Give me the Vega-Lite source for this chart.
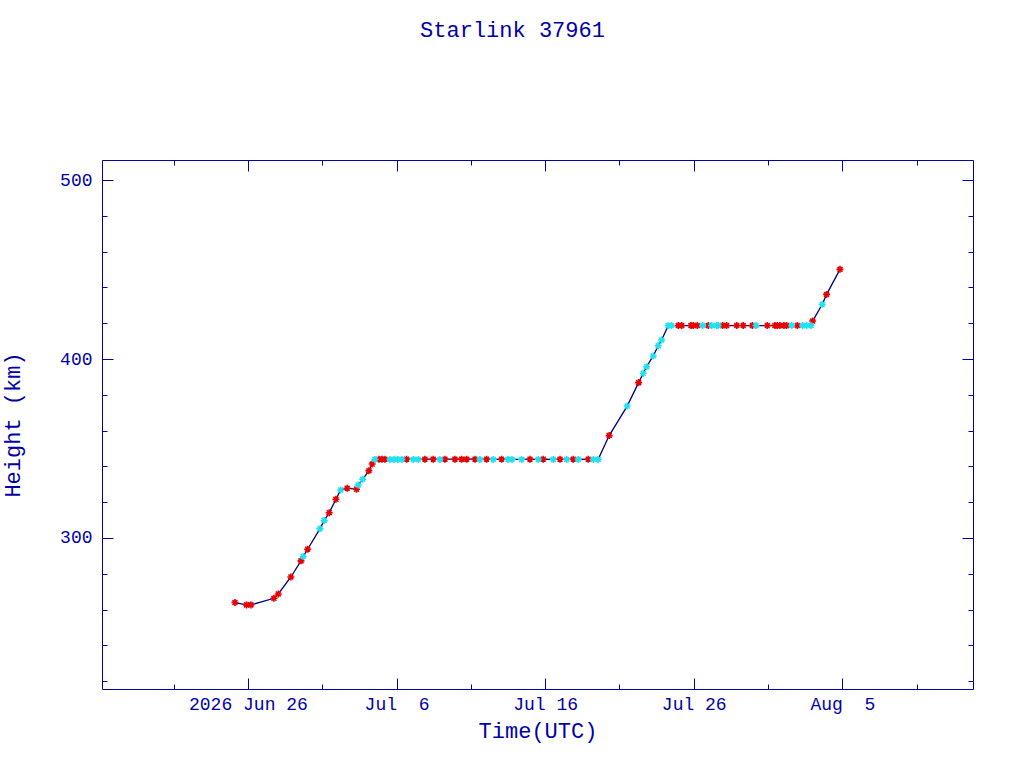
{
  "$schema": "https://vega.github.io/schema/vega-lite/v6.json",
  "width": 871,
  "height": 529,
  "autosize": "none",
  "padding": {"left": 102, "top": 160, "right": 51, "bottom": 79},
  "background": "white",
  "config": {
    "view": {"stroke": null},
    "axis": {
      "grid": false,
      "domainColor": "#0000aa",
      "tickColor": "#0000aa",
      "labelColor": "#0000aa",
      "titleColor": "#0000aa",
      "labelFont": "Liberation Mono",
      "titleFont": "Liberation Mono",
      "labelFontSize": 18,
      "titleFontSize": 22,
      "titleFontWeight": "normal",
      "tickWidth": 1,
      "domainWidth": 1
    }
  },
  "title": {
    "text": "Starlink 37961",
    "anchor": "middle",
    "frame": "group",
    "dx": -25,
    "offset": 118,
    "font": "Liberation Mono",
    "fontSize": 22,
    "fontWeight": "normal",
    "color": "#0000aa"
  },
  "data": {
    "values": [
      {"t": "2026-06-25T03:00:00Z", "h": 263.9, "src": "A"},
      {"t": "2026-06-25T21:50:00Z", "h": 262.6, "src": "A"},
      {"t": "2026-06-26T04:48:00Z", "h": 262.6, "src": "A"},
      {"t": "2026-06-27T18:00:00Z", "h": 266.3, "src": "A"},
      {"t": "2026-06-28T01:00:00Z", "h": 268.7, "src": "A"},
      {"t": "2026-06-28T21:22:00Z", "h": 278.2, "src": "A"},
      {"t": "2026-06-29T13:41:00Z", "h": 287.2, "src": "A"},
      {"t": "2026-06-29T17:17:00Z", "h": 289.6, "src": "B"},
      {"t": "2026-06-30T00:29:00Z", "h": 293.7, "src": "A"},
      {"t": "2026-06-30T20:24:00Z", "h": 305.2, "src": "B"},
      {"t": "2026-07-01T03:07:00Z", "h": 309.7, "src": "B"},
      {"t": "2026-07-01T11:17:00Z", "h": 314.1, "src": "A"},
      {"t": "2026-07-01T22:05:00Z", "h": 321.6, "src": "A"},
      {"t": "2026-07-02T05:46:00Z", "h": 326.8, "src": "B"},
      {"t": "2026-07-02T16:19:00Z", "h": 327.8, "src": "A"},
      {"t": "2026-07-03T07:26:00Z", "h": 327.2, "src": "A"},
      {"t": "2026-07-03T10:05:00Z", "h": 329.6, "src": "B"},
      {"t": "2026-07-03T17:17:00Z", "h": 332.8, "src": "B"},
      {"t": "2026-07-04T03:22:00Z", "h": 337.6, "src": "A"},
      {"t": "2026-07-04T08:38:00Z", "h": 341.3, "src": "A"},
      {"t": "2026-07-04T13:12:00Z", "h": 343.9, "src": "B"},
      {"t": "2026-07-04T19:41:00Z", "h": 344.0, "src": "A"},
      {"t": "2026-07-05T00:29:00Z", "h": 344.0, "src": "A"},
      {"t": "2026-07-05T05:17:00Z", "h": 344.0, "src": "A"},
      {"t": "2026-07-05T13:26:00Z", "h": 343.9, "src": "B"},
      {"t": "2026-07-05T19:55:00Z", "h": 343.9, "src": "B"},
      {"t": "2026-07-06T02:10:00Z", "h": 343.9, "src": "B"},
      {"t": "2026-07-06T08:38:00Z", "h": 343.9, "src": "B"},
      {"t": "2026-07-06T16:19:00Z", "h": 344.0, "src": "A"},
      {"t": "2026-07-07T02:53:00Z", "h": 343.9, "src": "B"},
      {"t": "2026-07-07T11:02:00Z", "h": 343.9, "src": "B"},
      {"t": "2026-07-07T21:50:00Z", "h": 344.0, "src": "A"},
      {"t": "2026-07-08T11:17:00Z", "h": 344.0, "src": "A"},
      {"t": "2026-07-08T22:05:00Z", "h": 343.9, "src": "B"},
      {"t": "2026-07-09T06:14:00Z", "h": 344.0, "src": "A"},
      {"t": "2026-07-09T22:19:00Z", "h": 344.0, "src": "A"},
      {"t": "2026-07-10T09:07:00Z", "h": 344.0, "src": "A"},
      {"t": "2026-07-10T17:17:00Z", "h": 344.0, "src": "A"},
      {"t": "2026-07-11T06:43:00Z", "h": 344.0, "src": "A"},
      {"t": "2026-07-11T14:38:00Z", "h": 343.9, "src": "B"},
      {"t": "2026-07-12T01:26:00Z", "h": 344.0, "src": "A"},
      {"t": "2026-07-12T12:14:00Z", "h": 343.9, "src": "B"},
      {"t": "2026-07-13T01:41:00Z", "h": 344.0, "src": "A"},
      {"t": "2026-07-13T12:00:00Z", "h": 343.9, "src": "B"},
      {"t": "2026-07-13T18:29:00Z", "h": 343.9, "src": "B"},
      {"t": "2026-07-14T10:05:00Z", "h": 343.9, "src": "B"},
      {"t": "2026-07-14T23:31:00Z", "h": 344.0, "src": "A"},
      {"t": "2026-07-15T12:58:00Z", "h": 343.9, "src": "B"},
      {"t": "2026-07-15T20:53:00Z", "h": 344.0, "src": "A"},
      {"t": "2026-07-16T13:12:00Z", "h": 343.9, "src": "B"},
      {"t": "2026-07-17T00:00:00Z", "h": 344.0, "src": "A"},
      {"t": "2026-07-17T10:48:00Z", "h": 343.9, "src": "B"},
      {"t": "2026-07-17T21:22:00Z", "h": 344.0, "src": "A"},
      {"t": "2026-07-18T05:31:00Z", "h": 343.9, "src": "B"},
      {"t": "2026-07-18T21:36:00Z", "h": 344.0, "src": "A"},
      {"t": "2026-07-19T05:46:00Z", "h": 343.9, "src": "B"},
      {"t": "2026-07-19T13:41:00Z", "h": 343.9, "src": "B"},
      {"t": "2026-07-20T07:26:00Z", "h": 357.2, "src": "A"},
      {"t": "2026-07-21T12:29:00Z", "h": 373.7, "src": "B"},
      {"t": "2026-07-22T06:58:00Z", "h": 386.8, "src": "A"},
      {"t": "2026-07-22T14:24:00Z", "h": 392.0, "src": "B"},
      {"t": "2026-07-22T19:55:00Z", "h": 395.7, "src": "B"},
      {"t": "2026-07-23T06:29:00Z", "h": 401.7, "src": "B"},
      {"t": "2026-07-23T14:38:00Z", "h": 407.4, "src": "B"},
      {"t": "2026-07-23T20:10:00Z", "h": 410.6, "src": "B"},
      {"t": "2026-07-24T06:43:00Z", "h": 418.6, "src": "B"},
      {"t": "2026-07-24T12:14:00Z", "h": 418.7, "src": "B"},
      {"t": "2026-07-24T23:02:00Z", "h": 418.7, "src": "A"},
      {"t": "2026-07-25T04:34:00Z", "h": 418.7, "src": "A"},
      {"t": "2026-07-25T19:26:00Z", "h": 418.7, "src": "A"},
      {"t": "2026-07-25T23:17:00Z", "h": 418.7, "src": "A"},
      {"t": "2026-07-26T05:46:00Z", "h": 418.7, "src": "A"},
      {"t": "2026-07-26T14:24:00Z", "h": 418.7, "src": "B"},
      {"t": "2026-07-26T23:31:00Z", "h": 418.7, "src": "A"},
      {"t": "2026-07-27T04:48:00Z", "h": 418.7, "src": "B"},
      {"t": "2026-07-27T12:58:00Z", "h": 418.7, "src": "B"},
      {"t": "2026-07-27T15:36:00Z", "h": 418.7, "src": "B"},
      {"t": "2026-07-27T22:34:00Z", "h": 418.7, "src": "A"},
      {"t": "2026-07-28T05:02:00Z", "h": 418.7, "src": "A"},
      {"t": "2026-07-28T21:22:00Z", "h": 418.7, "src": "A"},
      {"t": "2026-07-29T07:55:00Z", "h": 418.7, "src": "A"},
      {"t": "2026-07-29T22:34:00Z", "h": 418.7, "src": "A"},
      {"t": "2026-07-30T04:34:00Z", "h": 418.7, "src": "B"},
      {"t": "2026-07-30T22:48:00Z", "h": 418.7, "src": "A"},
      {"t": "2026-07-31T11:02:00Z", "h": 418.7, "src": "A"},
      {"t": "2026-07-31T14:53:00Z", "h": 418.7, "src": "A"},
      {"t": "2026-07-31T19:12:00Z", "h": 418.7, "src": "A"},
      {"t": "2026-08-01T01:41:00Z", "h": 418.7, "src": "A"},
      {"t": "2026-08-01T06:00:00Z", "h": 418.7, "src": "A"},
      {"t": "2026-08-01T14:10:00Z", "h": 418.7, "src": "B"},
      {"t": "2026-08-01T23:17:00Z", "h": 418.7, "src": "A"},
      {"t": "2026-08-02T07:55:00Z", "h": 418.7, "src": "B"},
      {"t": "2026-08-02T14:24:00Z", "h": 418.7, "src": "B"},
      {"t": "2026-08-02T21:22:00Z", "h": 418.7, "src": "B"},
      {"t": "2026-08-03T00:00:00Z", "h": 421.2, "src": "A"},
      {"t": "2026-08-03T15:36:00Z", "h": 430.6, "src": "B"},
      {"t": "2026-08-03T22:34:00Z", "h": 436.1, "src": "A"},
      {"t": "2026-08-04T20:10:00Z", "h": 450.1, "src": "A"}
    ]
  },
  "resolve": {"axis": {"x": "independent", "y": "independent"}},
  "layer": [
    {
      "mark": {"type": "line", "color": "#000080", "strokeWidth": 1.3},
      "encoding": {
        "x": {
          "field": "t", "type": "temporal",
          "scale": {"type": "utc", "domain": [
            {"year": 2026, "month": 6, "date": 16, "hours": 4, "minutes": 20, "utc": true},
            {"year": 2026, "month": 8, "date": 13, "hours": 19, "utc": true}]},
          "axis": {
            "orient": "bottom",
            "title": "Time(UTC)",
            "ticks": false,
            "labelPadding": 6,
            "titlePadding": 7,
            "values": [
              {"year": 2026, "month": 6, "date": 26, "utc": true},
              {"year": 2026, "month": 7, "date": 6, "utc": true},
              {"year": 2026, "month": 7, "date": 16, "utc": true},
              {"year": 2026, "month": 7, "date": 26, "utc": true},
              {"year": 2026, "month": 8, "date": 5, "utc": true}
            ],
            "labelExpr": "utcmonth(datum.value) == 5 ? '2026 Jun 26' : utcFormat(datum.value, '%b') + (utcdate(datum.value) < 10 ? '\u00a0\u00a0' : '\u00a0') + utcdate(datum.value)"
          }
        },
        "y": {
          "field": "h", "type": "quantitative",
          "scale": {"domain": [215.6, 511.2], "nice": false, "zero": false},
          "axis": {
            "orient": "left",
            "title": "Height (km)",
            "ticks": false,
            "values": [300, 400, 500],
            "labelPadding": 10,
            "titlePadding": 35
          }
        }
      }
    },
    {
      "transform": [{"filter": "datum.src == 'A'"}],
      "mark": {
        "type": "point",
        "shape": "M-1,0L1,0M0,-1L0,1M-0.7,-0.7L0.7,0.7M-0.7,0.7L0.7,-0.7",
        "filled": false,
        "color": "#e80000",
        "strokeWidth": 1.6,
        "size": 49,
        "opacity": 1
      },
      "encoding": {
        "x": {
          "field": "t", "type": "temporal",
          "scale": {"type": "utc", "domain": [
            {"year": 2026, "month": 6, "date": 16, "hours": 4, "minutes": 20, "utc": true},
            {"year": 2026, "month": 8, "date": 13, "hours": 19, "utc": true}]},
          "axis": {
            "orient": "bottom",
            "title": null,
            "labels": false,
            "domain": false,
            "values": [
              {"year": 2026, "month": 6, "date": 21, "utc": true},
              {"year": 2026, "month": 6, "date": 26, "utc": true},
              {"year": 2026, "month": 7, "date": 1, "utc": true},
              {"year": 2026, "month": 7, "date": 6, "utc": true},
              {"year": 2026, "month": 7, "date": 11, "utc": true},
              {"year": 2026, "month": 7, "date": 16, "utc": true},
              {"year": 2026, "month": 7, "date": 21, "utc": true},
              {"year": 2026, "month": 7, "date": 26, "utc": true},
              {"year": 2026, "month": 7, "date": 31, "utc": true},
              {"year": 2026, "month": 8, "date": 5, "utc": true},
              {"year": 2026, "month": 8, "date": 10, "utc": true}
            ],
            "tickSize": {"condition": {"test": "indexof([26, 6, 16, 5], utcdate(datum.value)) >= 0", "value": -11}, "value": -5}
          }
        },
        "y": {
          "field": "h", "type": "quantitative",
          "scale": {"domain": [215.6, 511.2], "nice": false, "zero": false},
          "axis": {
            "orient": "left",
            "title": null,
            "labels": false,
            "domain": false,
            "values": [220, 240, 260, 280, 300, 320, 340, 360, 380, 400, 420, 440, 460, 480, 500],
            "tickSize": {"condition": {"test": "datum.value % 100 == 0", "value": -11}, "value": -5}
          }
        }
      }
    },
    {
      "transform": [{"filter": "datum.src == 'B'"}],
      "mark": {
        "type": "point",
        "shape": "M-1,0L1,0M0,-1L0,1M-0.7,-0.7L0.7,0.7M-0.7,0.7L0.7,-0.7",
        "filled": false,
        "color": "#22e0f0",
        "strokeWidth": 1.6,
        "size": 49,
        "opacity": 1
      },
      "encoding": {
        "x": {
          "field": "t", "type": "temporal",
          "scale": {"type": "utc", "domain": [
            {"year": 2026, "month": 6, "date": 16, "hours": 4, "minutes": 20, "utc": true},
            {"year": 2026, "month": 8, "date": 13, "hours": 19, "utc": true}]},
          "axis": {
            "orient": "top",
            "title": null,
            "labels": false,
            "values": [
              {"year": 2026, "month": 6, "date": 21, "utc": true},
              {"year": 2026, "month": 6, "date": 26, "utc": true},
              {"year": 2026, "month": 7, "date": 1, "utc": true},
              {"year": 2026, "month": 7, "date": 6, "utc": true},
              {"year": 2026, "month": 7, "date": 11, "utc": true},
              {"year": 2026, "month": 7, "date": 16, "utc": true},
              {"year": 2026, "month": 7, "date": 21, "utc": true},
              {"year": 2026, "month": 7, "date": 26, "utc": true},
              {"year": 2026, "month": 7, "date": 31, "utc": true},
              {"year": 2026, "month": 8, "date": 5, "utc": true},
              {"year": 2026, "month": 8, "date": 10, "utc": true}
            ],
            "tickSize": {"condition": {"test": "indexof([26, 6, 16, 5], utcdate(datum.value)) >= 0", "value": -11}, "value": -5}
          }
        },
        "y": {
          "field": "h", "type": "quantitative",
          "scale": {"domain": [215.6, 511.2], "nice": false, "zero": false},
          "axis": {
            "orient": "right",
            "title": null,
            "labels": false,
            "values": [220, 240, 260, 280, 300, 320, 340, 360, 380, 400, 420, 440, 460, 480, 500],
            "tickSize": {"condition": {"test": "datum.value % 100 == 0", "value": -11}, "value": -5}
          }
        }
      }
    }
  ]
}
